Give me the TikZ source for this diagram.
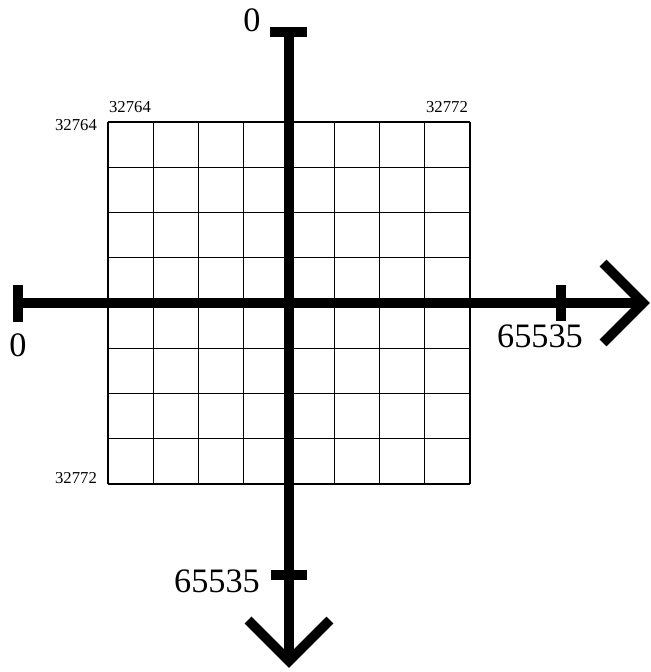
\documentclass[tikz,border=0pt]{standalone}
\usepackage{fontspec}
\setmainfont{Liberation Serif}
\begin{document}
\begin{tikzpicture}[x=0.02cm, y=-0.02cm,
	axis/.style={line width=5.5pt, line join=miter},
	tickmark/.style={line width=5.3pt},
	gridline/.style={line width=0.8pt},
	biglabel/.style={font=\fontsize{19.5}{20}\selectfont, inner sep=0pt},
	smalllabel/.style={font=\fontsize{9.5}{10}\selectfont, inner sep=0pt}]
		\useasboundingbox (0,0) rectangle (650,672);

		% grid of cells
		\foreach \i in {0,...,8} {
			\draw[gridline] (108+45.25*\i,122) -- (108+45.25*\i,484);
			\draw[gridline] (108,122+45.25*\i) -- (470,122+45.25*\i);
		}

		\node[smalllabel] (topleft) at (130,107) {32764};
		\node[smalllabel] (lefttop) at (76,125) {32764};
		\node[smalllabel] (topright) at (447,107) {32772};
		\node[smalllabel] (leftbottom) at (76,478) {32772};

		% axes
		\coordinate (xstart) at (18,303);
		\coordinate (xtip) at (643,303);
		\coordinate (ystart) at (289,32);
		\coordinate (ytip) at (289,661);
		\draw[axis] (xstart) -- (xtip);
		\draw[axis] (ystart) -- (ytip);

		\draw[axis] ([shift={(-40,-40)}]xtip) -- (xtip) -- ([shift={(-40,40)}]xtip);
		\draw[axis] ([shift={(-41,-41)}]ytip) -- (ytip) -- ([shift={(41,-41)}]ytip);

		% ticks
		\draw[tickmark] (18,285) -- (18,322);
		\draw[tickmark] (561,285) -- (561,321);
		\draw[tickmark] (270,32) -- (307,32);
		\draw[tickmark] (271,575) -- (307,575);

		\node[biglabel] (xzero) at (18,345) {0};
		\node[biglabel] (xmax) at (540,336) {65535};
		\node[biglabel] (yzero) at (252,20) {0};
		\node[biglabel] (ymax) at (217,581) {65535};

	\end{tikzpicture}
\end{document}
